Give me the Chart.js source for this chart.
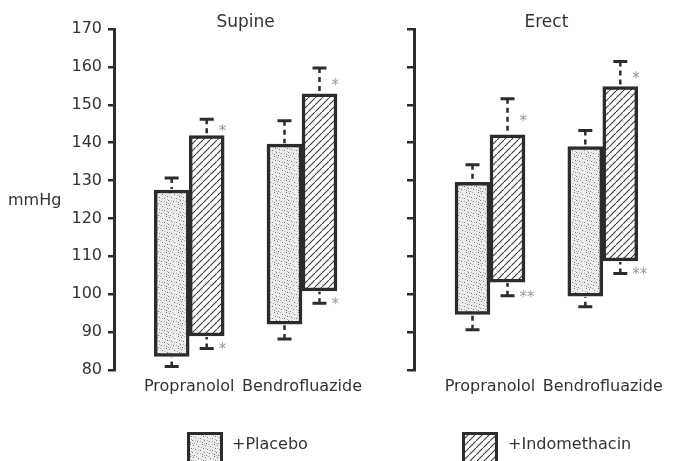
<!DOCTYPE html>
<html><head><meta charset="utf-8">
<script src="https://cdn.jsdelivr.net/npm/chart.js@4/dist/chart.umd.min.js"></script>
<style>html,body{margin:0;padding:0;background:#fff;overflow:hidden}#wrap{width:685px;height:461px;position:relative}</style>
</head><body><div id="wrap"><canvas id="c" width="685" height="461"></canvas></div>
<script>
// ---------- data ----------
const postures = ['Supine', 'Erect'];
const drugs = ['Propranolol', 'Bendrofluazide'];
const seriesNames = ['+Placebo', '+Indomethacin'];
const yAxisLabel = 'mmHg';
const yMin = 80, yMax = 170, yStep = 10;
// order: Supine-Propranolol, Supine-Bendrofluazide, Erect-Propranolol, Erect-Bendrofluazide
const placeboLow     = [83.6, 92.1, 94.7, 99.5];
const placeboHigh    = [127.5, 139.6, 129.5, 139.0];
const placeboErrLow  = [80.9, 88.2, 90.6, 96.7];
const placeboErrHigh = [130.7, 145.8, 134.2, 143.2];
const indoLow        = [89.0, 100.9, 103.2, 108.8];
const indoHigh       = [141.9, 152.9, 142.1, 154.8];
const indoErrLow     = [85.7, 97.6, 99.6, 105.5];
const indoErrHigh    = [146.2, 159.7, 151.6, 161.4];
const placeboSigHigh = ['', '', '', ''];
const placeboSigLow  = ['', '', '', ''];
const indoSigHigh    = ['*', '*', '*', '*'];
const indoSigLow     = ['*', '*', '**', '**'];

// ---------- layout (slots on a category axis) ----------
const SLOT_COUNT = 16;
const groupSlots = [2, 5, 10, 13];
const erectAxisSlot = 8;
const DARK = '#2c2c2c';
const TEXT = '#333333';
const FONT = 'DejaVu Sans';

const labels = Array(SLOT_COUNT).fill('');
groupSlots.forEach((s, k) => { labels[s] = drugs[k % drugs.length]; });
function toSlots(arr) {
  const out = Array(SLOT_COUNT).fill(null);
  groupSlots.forEach((s, k) => { out[s] = arr[k]; });
  return out;
}
function toRanges(lo, hi) {
  const out = Array(SLOT_COUNT).fill(null);
  groupSlots.forEach((s, k) => { out[s] = [lo[k], hi[k]]; });
  return out;
}

// ---------- fill patterns ----------
function stipple() {
  const c = document.createElement('canvas'); c.width = 12; c.height = 12;
  const g = c.getContext('2d');
  g.fillStyle = '#ededed'; g.fillRect(0, 0, 12, 12);
  g.fillStyle = '#7a7a7a';
  [[1,1],[6,2],[10,0],[3,5],[8,6],[0,8],[5,9],[10,10],[2,11],[11,4]].forEach(p => g.fillRect(p[0], p[1], 1, 1));
  g.fillStyle = '#b0b0b0';
  [[4,0],[9,3],[1,4],[6,6],[3,8],[8,9],[0,11],[11,7]].forEach(p => g.fillRect(p[0], p[1], 1, 1));
  return g.createPattern(c, 'repeat');
}
function hatch() {
  const n = 7;
  const c = document.createElement('canvas'); c.width = n; c.height = n;
  const g = c.getContext('2d');
  g.fillStyle = '#ffffff'; g.fillRect(0, 0, n, n);
  g.strokeStyle = '#3a3a3a'; g.lineWidth = 1.1;
  g.beginPath();
  g.moveTo(-1, n + 1); g.lineTo(n + 1, -1);
  g.moveTo(-n - 1, 1); g.lineTo(1, -n - 1);
  g.moveTo(n - 1, 2 * n + 1); g.lineTo(2 * n + 1, n - 1);
  g.stroke();
  return g.createPattern(c, 'repeat');
}

const datasets = [
  { label: seriesNames[0], data: toRanges(placeboLow, placeboHigh),
    errLow: toSlots(placeboErrLow), errHigh: toSlots(placeboErrHigh),
    sigLow: toSlots(placeboSigLow), sigHigh: toSlots(placeboSigHigh),
    backgroundColor: stipple() },
  { label: seriesNames[1], data: toRanges(indoLow, indoHigh),
    errLow: toSlots(indoErrLow), errHigh: toSlots(indoErrHigh),
    sigLow: toSlots(indoSigLow), sigHigh: toSlots(indoSigHigh),
    backgroundColor: hatch() }
].map(d => Object.assign(d, {
  borderColor: DARK, borderWidth: 3.5, borderSkipped: false,
  barThickness: 35, grouped: true
}));

// ---------- plugins ----------
const errorBars = {
  id: 'errorBars',
  afterDatasetsDraw(chart) {
    const ctx = chart.ctx, y = chart.scales.y;
    chart.data.datasets.forEach((ds, di) => {
      const meta = chart.getDatasetMeta(di);
      meta.data.forEach((el, i) => {
        if (!ds.data[i]) return;
        const x = el.x;
        const top = y.getPixelForValue(ds.data[i][1]);
        const bot = y.getPixelForValue(ds.data[i][0]);
        const capT = y.getPixelForValue(ds.errHigh[i]);
        const capB = y.getPixelForValue(ds.errLow[i]);
        ctx.save();
        ctx.strokeStyle = DARK; ctx.lineCap = 'butt';
        ctx.lineWidth = 2.5; ctx.setLineDash([5, 4]);
        ctx.beginPath(); ctx.moveTo(x, capT); ctx.lineTo(x, top - 1); ctx.stroke();
        ctx.beginPath(); ctx.moveTo(x, capB); ctx.lineTo(x, bot + 1); ctx.stroke();
        ctx.setLineDash([]); ctx.lineWidth = 3;
        ctx.beginPath(); ctx.moveTo(x - 7, capT); ctx.lineTo(x + 7, capT);
        ctx.moveTo(x - 7, capB); ctx.lineTo(x + 7, capB); ctx.stroke();
        ctx.fillStyle = '#9a9a9a'; ctx.font = '15px ' + FONT;
        ctx.textAlign = 'left'; ctx.textBaseline = 'alphabetic';
        if (ds.sigHigh[i]) ctx.fillText(ds.sigHigh[i], x + 12, (capT + top) / 2 + 9);
        if (ds.sigLow[i]) ctx.fillText(ds.sigLow[i], x + 12, capB - 3 + 9);
        ctx.restore();
      });
    });
  }
};

const decorations = {
  id: 'decorations',
  afterDraw(chart) {
    const ctx = chart.ctx, xs = chart.scales.x, area = chart.chartArea;
    ctx.save();
    ctx.fillStyle = TEXT;
    ctx.textBaseline = 'middle';
    // panel titles
    ctx.font = '17px ' + FONT; ctx.textAlign = 'center';
    postures.forEach((p, k) => {
      const cx = (xs.getPixelForValue(groupSlots[2 * k]) + xs.getPixelForValue(groupSlots[2 * k + 1])) / 2;
      ctx.fillText(p, cx, 23);
    });
    // y axis label
    ctx.font = '16px ' + FONT; ctx.textAlign = 'left';
    ctx.fillText(yAxisLabel, 8, (area.top + area.bottom) / 2 + 1);
    // legend
    const items = [{ bx: 187, tx: 232 }, { bx: 462, tx: 508 }];
    chart.data.datasets.forEach((ds, di) => {
      const it = items[di];
      ctx.fillStyle = ds.backgroundColor;
      ctx.fillRect(it.bx, 432, 36, 34);
      ctx.strokeStyle = DARK; ctx.lineWidth = 3;
      ctx.strokeRect(it.bx + 1.5, 433.5, 33, 31);
      ctx.fillStyle = TEXT; ctx.font = '16px ' + FONT; ctx.textAlign = 'left';
      ctx.fillText(ds.label, it.tx, 445);
    });
    ctx.restore();
  }
};

const axisGrid = { drawOnChartArea: false, drawTicks: true, tickLength: 6, lineWidth: 2.5, color: DARK };
const axisBorder = { display: true, width: 3, color: DARK };

new Chart(document.getElementById('c'), {
  type: 'bar',
  data: { labels, datasets },
  options: {
    responsive: false, animation: false, devicePixelRatio: 1,
    layout: { padding: { top: 29, right: 5.5, bottom: 60, left: 0 } },
    plugins: { legend: { display: false }, tooltip: { enabled: false } },
    scales: {
      x: {
        type: 'category', offset: false,
        grid: { display: false, drawTicks: false, offset: false },
        border: { display: false },
        ticks: { autoSkip: false, maxRotation: 0, minRotation: 0, padding: 7, color: TEXT,
                 font: { family: FONT, size: 16 } },
        afterFit: s => { s.height = 31; }
      },
      y: {
        position: 'left', min: yMin, max: yMax,
        ticks: { stepSize: yStep, padding: 6, color: TEXT, font: { family: FONT, size: 16 } },
        grid: axisGrid, border: axisBorder,
        afterFit: s => { s.width = 114; }
      },
      y2: {
        axis: 'y', position: { x: erectAxisSlot }, min: yMin, max: yMax,
        ticks: { stepSize: yStep, display: false },
        grid: axisGrid, border: axisBorder
      }
    }
  },
  plugins: [errorBars, decorations]
});
</script>
</body></html>
